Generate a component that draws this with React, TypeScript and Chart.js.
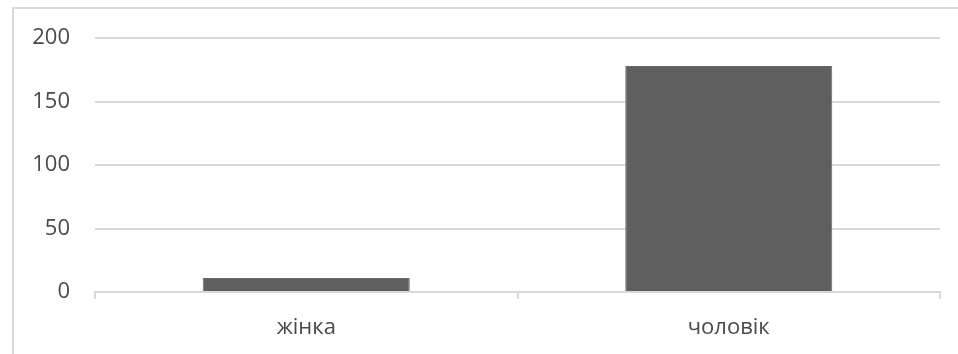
import React, { useEffect, useRef } from "react";
import { Chart, registerables } from "chart.js";

Chart.register(...registerables);

const categories = ["жінка", "чоловік"];
const values = [11, 178];
const yTicks = [0, 50, 100, 150, 200];

export default function App() {
  const ref = useRef<HTMLCanvasElement | null>(null);

  useEffect(() => {
    document.body.style.margin = "0";
    const ctx = ref.current;
    if (!ctx) return;
    const chart = new Chart(ctx, {
      type: "bar",
      data: {
        labels: categories,
        datasets: [
          {
            data: values,
            backgroundColor: "#5f5f5f",
            borderColor: "#6a6a6a",
            borderWidth: 1,
            barPercentage: 0.98,
            categoryPercentage: 0.5,
          },
        ],
      },
      options: {
        animation: false,
        responsive: false,
        maintainAspectRatio: false,
        layout: { padding: { top: 36, right: 18, left: 0, bottom: 0 } },
        plugins: { legend: { display: false }, tooltip: { enabled: false } },
        scales: {
          x: {
            grid: {
              drawOnChartArea: false,
              drawTicks: true,
              tickLength: 7,
              color: "#d9d9d9",
              lineWidth: 2,
              offset: true,
            },
            border: { display: true, color: "#d9d9d9", width: 2 },
            ticks: {
              color: "#4a4a4a",
              font: { family: "'Open Sans', sans-serif", size: 22 },
              padding: 16,
            },
            afterFit: (scale: any) => {
              scale.height = 62;
            },
          },
          y: {
            min: 0,
            max: 200,
            grid: { color: "#d9d9d9", lineWidth: 2, drawTicks: false },
            border: { display: false },
            afterBuildTicks: (scale: any) => {
              scale.ticks = yTicks.map((v) => ({ value: v }));
            },
            ticks: {
              color: "#4a4a4a",
              font: { family: "'Open Sans', sans-serif", size: 22 },
              padding: 25,
            },
            afterFit: (scale: any) => {
              scale.width = 95;
            },
          },
        },
      },
    });
    return () => chart.destroy();
  }, []);

  return (
    <div style={{ position: "relative", width: 958, height: 354, background: "#fff" }}>
      <div
        style={{
          position: "absolute",
          left: 12,
          top: 7,
          width: 946,
          height: 347,
          borderLeft: "2px solid #d9d9d9",
          borderTop: "2px solid #d9d9d9",
          boxSizing: "border-box",
        }}
      />
      <canvas
        ref={ref}
        width={958}
        height={354}
        style={{ position: "absolute", left: 0, top: 0, width: 958, height: 354 }}
      />
    </div>
  );
}
